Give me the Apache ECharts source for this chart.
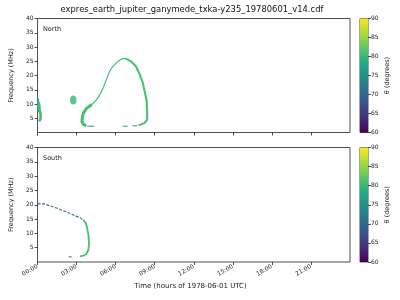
<!DOCTYPE html>
<html>
<head>
<meta charset="utf-8">
<script src="https://cdn.jsdelivr.net/npm/echarts@6/dist/echarts.min.js"></script>
<style>html,body{margin:0;padding:0;background:#fff}#c{width:400px;height:300px}</style>
</head>
<body>
<div id="c"></div>
<script>
// ---- data (time in hours, frequency in MHz, theta in degrees) ----
const hourTicks = [0, 3, 6, 9, 12, 15, 18, 21];
const freqTicks = [5, 10, 15, 20, 25, 30, 35, 40];
const thetaTicks = [60, 65, 70, 75, 80, 85, 90];
const thetaRange = [60, 90];

// North panel
const northEdgeDark = [[0.05, 11.8], [0.05, 7.2]];
const northEdgeLight = [[0.1, 10.6], [0.16, 8.2], [0.24, 6.2], [0.22, 4.6], [0.12, 3.9]];
const northBlob = [[2.74, 11.4]];
const northLoopFoot = [[3.74, 2.3], [3.5, 2.95], [3.41, 3.93], [3.45, 5.5], [3.53, 6.88], [3.79, 8.63], [4.17, 9.79]];
const northLoopRise = [[4.17, 9.79], [4.54, 11.54], [4.79, 13.3], [5.04, 15.65], [5.29, 18.56], [5.54, 21.47], [5.79, 23.23], [6.17, 24.98], [6.54, 25.93], [6.8, 25.93]];
const northLoopFall = [[6.8, 25.93], [7.17, 24.98], [7.55, 23.23], [7.8, 20.9], [8.05, 17.96], [8.23, 14.46], [8.38, 10.95], [8.42, 7.44], [8.42, 4.53], [8.23, 3.37], [7.92, 2.77], [7.75, 2.55]];
const northDash1 = [[3.82, 2.2], [4.36, 2.2]];
const northDash2 = [[6.54, 2.2], [6.92, 2.2]];
const northDash3 = [[7.29, 2.3], [7.67, 2.4]];
const northThetas = { edgeDark: 78, edgeLight: 81, blob: 80, foot: 81, rise: 80, fall: 81, dash: 77 };

// South panel
const southUpper = [[0, 20.3], [0.5, 20.3], [0.75, 19.95], [1.13, 19.4], [1.5, 18.8], [1.88, 18.1], [2.26, 17.4], [2.63, 16.7], [2.89, 16.1], [3.26, 15.5], [3.51, 14.7]];
const southLower = [[3.51, 14.7], [3.71, 13.6], [3.81, 11.85], [3.91, 9.5], [3.96, 6.6], [3.91, 4.3], [3.76, 2.8], [3.51, 2.2], [3.26, 2.0]];
const southDash = [[2.38, 1.8], [2.63, 1.8]];
const southThetas = { upper: 71, lower: 81, dash: 72 };

// ---- colour map ----
const viridisStops = ['#440154', '#472d7b', '#3b528b', '#2c728e', '#21918c', '#28ae80', '#5ec962', '#addc30', '#fde725'];
function hex2rgb(h) { return [1, 3, 5].map(i => parseInt(h.substr(i, 2), 16)); }
function viridis(theta) {
  let u = (theta - thetaRange[0]) / (thetaRange[1] - thetaRange[0]);
  u = Math.max(0, Math.min(1, u));
  const p = u * (viridisStops.length - 1);
  const i = Math.min(viridisStops.length - 2, Math.floor(p));
  const f = p - i;
  const a = hex2rgb(viridisStops[i]), b = hex2rgb(viridisStops[i + 1]);
  const c = a.map((v, k) => Math.round(v + (b[k] - v) * f));
  return 'rgb(' + c.join(',') + ')';
}

const FONT = 'DejaVu Sans';
const TXT = '#222';
const chart = echarts.init(document.getElementById('c'), null, { renderer: 'canvas' });

const plotLeft = 31, plotWidth = 319;
const grids = [
  { left: plotLeft, top: 18.5, width: plotWidth, height: 114 },
  { left: plotLeft, top: 147.5, width: plotWidth, height: 114.5 },
  { left: 360, top: 18.5, width: 8, height: 114 },
  { left: 360, top: 147.5, width: 8, height: 114.5 }
];
grids.forEach(g => { g.show = true; g.borderColor = '#222'; g.borderWidth = 0.8; g.backgroundColor = 'transparent'; });

function timeAxis(idx, showLabels) {
  return {
    type: 'value', gridIndex: idx, min: 0, max: 24, interval: 3,
    axisLine: { show: false },
    splitLine: { show: false },
    axisTick: { show: true, length: 3, lineStyle: { color: '#222', width: 0.8 }, customValues: hourTicks },
    axisLabel: {
      show: showLabels, rotate: 30, fontSize: 6, fontFamily: FONT, color: TXT, margin: 4,
      customValues: hourTicks,
      formatter: v => (v >= 24 ? '' : String(v).padStart(2, '0') + ':00')
    }
  };
}
function freqAxis(idx) {
  return {
    type: 'value', gridIndex: idx, min: 0, max: 40, interval: 5,
    name: 'Frequency (MHz)', nameLocation: 'middle', nameGap: 20, nameRotate: 90,
    nameTextStyle: { fontSize: 6.5, fontFamily: FONT, color: TXT },
    axisLine: { show: false },
    splitLine: { show: false },
    axisTick: { show: true, length: 3, lineStyle: { color: '#222', width: 0.8 }, customValues: freqTicks },
    axisLabel: { fontSize: 6, fontFamily: FONT, color: TXT, margin: 4, customValues: freqTicks,
      formatter: v => (v === 0 ? '' : String(v)) }
  };
}
function cbXAxis(idx) {
  return { type: 'category', gridIndex: idx, data: ['c'], show: false };
}
function cbYAxis(idx) {
  return {
    type: 'value', gridIndex: idx, min: thetaRange[0], max: thetaRange[1], interval: 5, position: 'right',
    name: 'θ (degrees)', nameLocation: 'middle', nameGap: 16, nameRotate: 90,
    nameTextStyle: { fontSize: 6.5, fontFamily: FONT, color: TXT },
    axisLine: { show: false }, splitLine: { show: false },
    axisTick: { show: true, length: 3, lineStyle: { color: '#222', width: 0.8 } },
    axisLabel: { fontSize: 6, fontFamily: FONT, color: TXT, margin: 3 }
  };
}

function seg(data, theta, width, axis, dashed) {
  return {
    type: 'line', data: data, xAxisIndex: axis, yAxisIndex: axis,
    showSymbol: false, symbol: 'none', silent: true, animation: false, clip: true,
    lineStyle: { color: viridis(theta), width: width, type: dashed ? [3, 1.5] : 'solid', cap: 'butt', join: 'round' },
    z: 3
  };
}

const cbGradient = new echarts.graphic.LinearGradient(0, 1, 0, 0,
  viridisStops.map((c, i) => ({ offset: i / (viridisStops.length - 1), color: c })));

function colorbarSeries(axis) {
  return [
    { type: 'bar', xAxisIndex: axis, yAxisIndex: axis, stack: 'cb' + axis, data: [thetaRange[0]], barWidth: '100%',
      itemStyle: { color: 'transparent' }, silent: true, animation: false },
    { type: 'bar', xAxisIndex: axis, yAxisIndex: axis, stack: 'cb' + axis, data: [thetaRange[1] - thetaRange[0]], barWidth: '100%',
      itemStyle: { color: cbGradient }, silent: true, animation: false }
  ];
}

const series = [
  seg(northEdgeDark, northThetas.edgeDark, 2, 0),
  seg(northEdgeLight, northThetas.edgeLight, 2.6, 0),
  { type: 'scatter', data: northBlob, xAxisIndex: 0, yAxisIndex: 0, symbol: 'circle', symbolSize: [6.5, 9],
    itemStyle: { color: viridis(northThetas.blob) }, silent: true, animation: false },
  seg(northLoopFoot, northThetas.foot, 3, 0),
  seg(northLoopRise, northThetas.rise, 1.1, 0),
  seg(northLoopFall, northThetas.fall, 2, 0),
  seg(northDash1, northThetas.dash, 1, 0),
  seg(northDash2, northThetas.dash, 1, 0),
  seg(northDash3, northThetas.dash, 1, 0),
  seg(southUpper, southThetas.upper, 1.1, 1, true),
  seg(southLower, southThetas.lower, 1.8, 1),
  seg(southDash, southThetas.dash, 1, 1)
].concat(colorbarSeries(2), colorbarSeries(3));

chart.setOption({
  animation: false,
  backgroundColor: '#fff',
  textStyle: { fontFamily: FONT },
  grid: grids,
  xAxis: [timeAxis(0, false), timeAxis(1, true), cbXAxis(2), cbXAxis(3)],
  yAxis: [freqAxis(0), freqAxis(1), cbYAxis(2), cbYAxis(3)],
  series: series,
  graphic: [
    { type: 'text', x: 192, y: 6, style: { text: 'expres_earth_jupiter_ganymede_txka-y235_19780601_v14.cdf',
      fontSize: 8.4, fontFamily: FONT, fill: '#111', textAlign: 'center' } },
    { type: 'text', x: 43, y: 26, style: { text: 'North', fontSize: 6.5, fontFamily: FONT, fill: TXT } },
    { type: 'text', x: 43, y: 155, style: { text: 'South', fontSize: 6.5, fontFamily: FONT, fill: TXT } },
    { type: 'text', x: 190.5, y: 283, style: { text: 'Time (hours of 1978-06-01 UTC)', fontSize: 7, fontFamily: FONT, fill: TXT, textAlign: 'center' } }
  ]
});
</script>
</body>
</html>
